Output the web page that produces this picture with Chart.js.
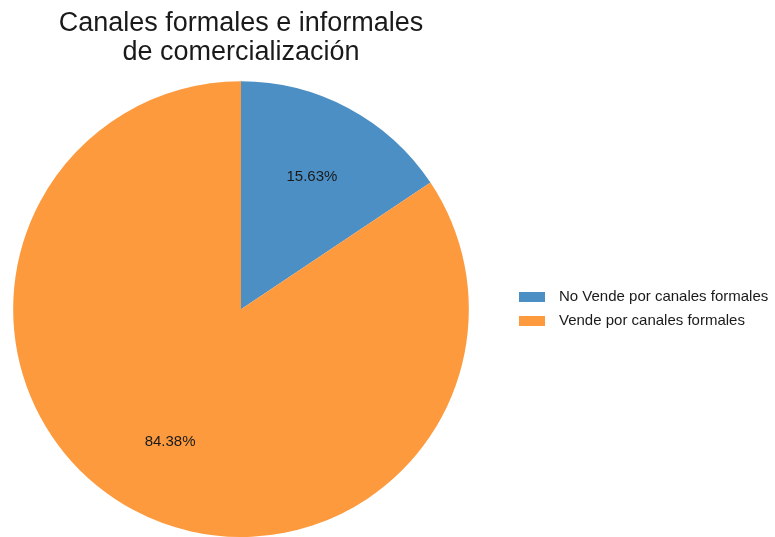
<!DOCTYPE html>
<html>
<head>
<meta charset="utf-8">
<script src="https://cdn.jsdelivr.net/npm/chart.js@4/dist/chart.umd.min.js"></script>
<style>
    html, body { margin: 0; padding: 0; background: #fff; }
    .wrap { width: 775px; height: 537px; position: relative; }
</style>
</head>
<body>
<div class="wrap"><canvas id="myChart"></canvas></div>
<script>
const categories = ['No Vende por canales formales', 'Vende por canales formales'];
const shares = [15.63, 84.38];
const sliceColors = ['#4C8FC5', '#FD9A3E'];
const chartTitle = ['Canales formales e informales', 'de comercialización'];

const fontFamily = '"Liberation Sans", Arial, sans-serif';

//percent labels inside each slice
const sliceLabels = {
    id: 'sliceLabels',
    afterDatasetsDraw(chart) {
        const ctx = chart.ctx;
        const meta = chart.getDatasetMeta(0);
        ctx.save();
        ctx.font = '15px ' + fontFamily;
        ctx.fillStyle = '#1a1a1a';
        ctx.textAlign = 'center';
        ctx.textBaseline = 'middle';
        meta.data.forEach((arc, i) => {
            const p = arc.getProps(['x', 'y', 'startAngle', 'endAngle', 'outerRadius'], true);
            const mid = (p.startAngle + p.endAngle) / 2;
            const r = p.outerRadius * 0.66;
            ctx.fillText(shares[i].toFixed(2) + '%', p.x + Math.cos(mid) * r, p.y + Math.sin(mid) * r);
        });
        ctx.restore();
    }
};

//legend on the right side
const sideLegend = {
    id: 'sideLegend',
    afterDraw(chart) {
        const ctx = chart.ctx;
        ctx.save();
        ctx.font = '15px ' + fontFamily;
        ctx.textBaseline = 'middle';
        categories.forEach((name, i) => {
            const y = 297 + i * 24;
            ctx.fillStyle = sliceColors[i];
            ctx.fillRect(519, y - 5, 26, 10);
            ctx.fillStyle = '#1a1a1a';
            ctx.fillText(name, 559, y);
        });
        ctx.restore();
    }
};

var ctx = document.getElementById('myChart').getContext('2d');
new Chart(ctx, {
    type: 'pie',
    data: {
        labels: categories,
        datasets: [{
            data: shares,
            backgroundColor: sliceColors,
            borderWidth: 0,
        }]
    },
    options: {
        responsive: true,
        maintainAspectRatio: false,
        animation: false,
        layout: { padding: { right: 293 } },
        plugins: {
            legend: { display: false },
            tooltip: { enabled: false },
            title: {
                display: true,
                text: chartTitle,
                color: '#1a1a1a',
                font: { family: fontFamily, size: 27, weight: 'normal', lineHeight: 1.08 },
                padding: { top: 9, bottom: 14 },
            },
        },
    },
    plugins: [sliceLabels, sideLegend],
});
</script>
</body>
</html>
